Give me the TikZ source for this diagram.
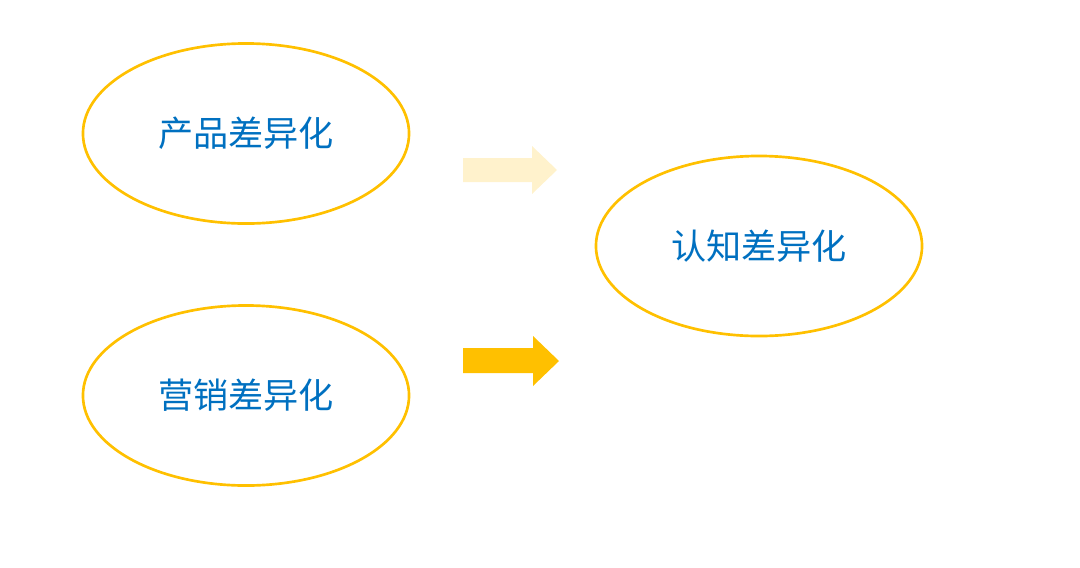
\documentclass[tikz,border=0pt]{standalone}
\usepackage{fontspec}
\setmainfont{Noto Sans CJK SC}
\usetikzlibrary{shapes.geometric,positioning}
\definecolor{ringgold}{HTML}{FFC000}
\definecolor{labelblue}{HTML}{0070C0}
\definecolor{palegold}{HTML}{FFF2CC}
\tikzset{
  ringbox/.style={draw=ringgold,line width=1.9pt,ellipse,minimum width=8.15cm,
    minimum height=4.5cm,text=labelblue,font=\fontsize{25}{29}\selectfont,inner sep=0pt},
  blockarrow/.style={draw=none}
}
\begin{document}
\begin{tikzpicture}[x=0.025cm,y=-0.025cm]
  \useasboundingbox (0,0) rectangle (1080,567);
  \node[ringbox] (prod) at (246,133.5) {产品差异化};
  \node[ringbox] (mkt) at (246,395.5) {营销差异化};
  \node[ringbox] (cog) at (759,246) {认知差异化};
  % block arrows
  \fill[palegold,blockarrow] (463,158) -- (532,158) -- (532,146) -- (557,170)
    -- (532,194) -- (532,182) -- (463,182) -- cycle;
  \fill[ringgold,blockarrow] (463,348) -- (533,348) -- (533,336) -- (559,361)
    -- (533,386) -- (533,373) -- (463,373) -- cycle;
\end{tikzpicture}
\end{document}
